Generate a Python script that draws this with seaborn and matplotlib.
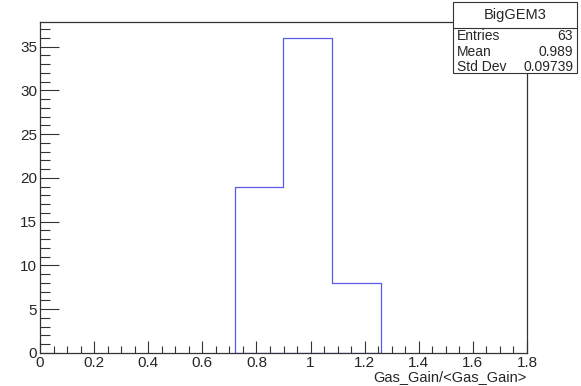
import numpy as np
import matplotlib
matplotlib.use("Agg")
import matplotlib.pyplot as plt
import seaborn as sns
from matplotlib.ticker import MultipleLocator

sns.set_style("white")
plt.rcParams['font.family'] = ['Liberation Sans', 'DejaVu Sans']

bin_edges = [0.72, 0.90, 1.08, 1.26]
counts = [19, 36, 8]
title = "BigGEM3"
stats_labels = ["Entries", "Mean", "Std Dev"]
stats_values = ["63", "0.989", "0.09739"]
xlabel = "Gas_Gain/<Gas_Gain>"

centers = [(a + b) / 2 for a, b in zip(bin_edges[:-1], bin_edges[1:])]

fig = plt.figure(figsize=(5.81, 3.86), dpi=100)
W, H = 581, 386
ax = fig.add_axes([40 / W, 1 - 353 / H, (527 - 40) / W, (353 - 22) / H])
sns.histplot(x=centers, weights=counts, bins=bin_edges, element="step",
             fill=True, color="#5a5af0", linewidth=0.9, ax=ax)
for c in ax.collections:
    c.set_facecolor("none")
    c.set_edgecolor("#5a5af0")
    c.set_alpha(1)
    c.set_linewidth(0.9)
ax.set_xlim(0, 1.8)
ax.set_ylim(0, 37.8)
ax.set_ylabel("")
ax.set_xlabel("")
for s in ax.spines.values():
    s.set_color("#333333")
    s.set_linewidth(0.9)
    s.set_zorder(3)
ax.xaxis.set_major_locator(MultipleLocator(0.2))
ax.xaxis.set_minor_locator(MultipleLocator(0.05))
ax.yaxis.set_major_locator(MultipleLocator(5))
ax.yaxis.set_minor_locator(MultipleLocator(1))
ax.tick_params(axis="x", which="major", bottom=True, direction="in", length=9, width=0.8, color="#333333", labelsize=11, pad=2)
ax.tick_params(axis="x", which="minor", bottom=True, direction="in", length=5, width=0.8, color="#333333")
ax.tick_params(axis="y", which="major", left=True, direction="in", length=14, width=0.8, color="#333333", labelsize=11, pad=2)
ax.tick_params(axis="y", which="minor", left=True, direction="in", length=7, width=0.8, color="#333333")
ax.set_xticklabels([f"{v:g}" for v in ax.get_xticks()])
ax.text(1.0, -0.05, xlabel, transform=ax.transAxes, ha="right", va="top", fontsize=10.5)

# stats box
bx0, bx1, by0, by1 = 453 / W, 577 / W, 1 - 73 / H, 1 - 2 / H
box = plt.Rectangle((bx0, by0), bx1 - bx0, by1 - by0, transform=fig.transFigure,
                    facecolor="white", edgecolor="#333333", linewidth=0.8, zorder=5)
fig.add_artist(box)
fig.add_artist(plt.Line2D([bx0, bx1], [1 - 28 / H, 1 - 28 / H], transform=fig.transFigure,
                          color="#333333", linewidth=0.8, zorder=6))
fig.text((bx0 + bx1) / 2, 1 - 15 / H, title, ha="center", va="center", fontsize=10.5, zorder=7)
for i, (lab, val) in enumerate(zip(stats_labels, stats_values)):
    y = 1 - (36 + i * 15.5) / H
    fig.text(bx0 + 4 / W, y, lab, ha="left", va="center", fontsize=10, zorder=7)
    fig.text(bx1 - 4 / W, y, val, ha="right", va="center", fontsize=10, zorder=7)

fig.savefig("out.png", dpi=100)
